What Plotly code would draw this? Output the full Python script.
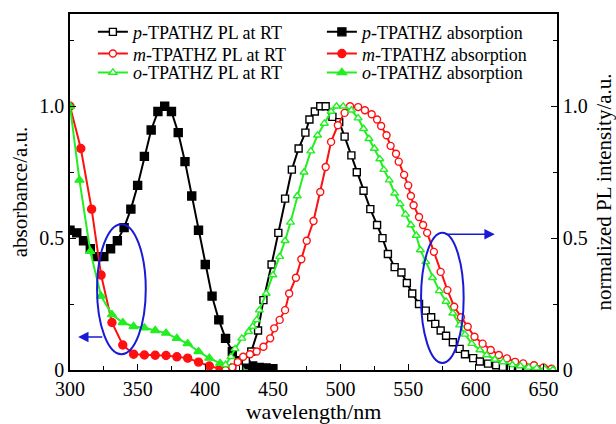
import plotly.graph_objects as go

# ---------------- data ----------------
# absorption (left axis)
p_abs_wl = [300, 305, 310, 315, 320, 325, 330, 335, 340, 345, 350, 355, 360, 365, 370,
            375, 380, 385, 390, 395, 400, 405, 410, 415, 420, 425, 430, 435, 440, 445, 450]
p_abs = [0.53, 0.52, 0.49, 0.46, 0.43, 0.43, 0.46, 0.49, 0.54, 0.61, 0.70, 0.81, 0.91, 0.98, 1.00,
         0.98, 0.90, 0.79, 0.66, 0.53, 0.40, 0.28, 0.19, 0.12, 0.07, 0.035, 0.02, 0.015, 0.01, 0.008, 0.005]

m_abs_wl = [300, 308, 316, 323, 331, 339, 347, 355, 363, 371, 379, 387, 395, 403, 411, 419]
m_abs = [1.0, 0.84, 0.61, 0.36, 0.18, 0.095, 0.06, 0.057, 0.056, 0.055, 0.05, 0.045, 0.03, 0.015, 0.005, 0.0]

o_abs_wl = [300, 307, 315, 323, 331, 339, 347, 355, 363, 371, 379, 387, 395, 403, 411, 419, 427]
o_abs = [1.0, 0.72, 0.45, 0.28, 0.21, 0.18, 0.165, 0.16, 0.15, 0.14, 0.12, 0.10, 0.07, 0.045, 0.025, 0.01, 0.0]

# PL (right axis)
p_pl_wl = [420, 425, 430, 434, 439, 443, 449, 454, 459, 464, 469, 474, 477, 481, 485, 489, 494, 499,
           503, 508, 512, 517, 522, 527, 531, 535, 540, 545, 549, 553, 558, 563, 567, 570, 574, 578,
           583, 588, 592, 598, 603, 609, 615, 620, 626, 632, 638, 644, 650]
p_pl = [0.0, 0.01, 0.035, 0.07, 0.15, 0.265, 0.40, 0.52, 0.65, 0.76, 0.84, 0.90, 0.95, 0.98, 1.0, 1.0, 0.96, 0.94,
        0.885, 0.814, 0.75, 0.68, 0.61, 0.55, 0.50, 0.44, 0.39, 0.37, 0.33, 0.29, 0.25, 0.225, 0.20, 0.175, 0.15, 0.13,
        0.105, 0.08, 0.06, 0.045, 0.032, 0.024, 0.018, 0.012, 0.007, 0.004, 0.002, 0.001, 0.0]

m_pl_wl = [415, 420, 424, 428, 433, 438, 443, 448, 451, 455, 459, 462, 467, 471, 475, 480, 485, 489, 493,
           498, 503, 507, 513, 518, 523, 527, 530, 534, 537, 541, 543, 547, 550, 552, 554, 558, 561, 564,
           569, 574, 579, 584, 589, 594, 599, 605, 611, 617, 623, 629, 635, 643, 650, 656]
m_pl = [0.0, 0.01, 0.03, 0.05, 0.06, 0.07, 0.088, 0.12, 0.158, 0.19, 0.227, 0.29, 0.35, 0.42, 0.49, 0.565, 0.675, 0.77, 0.865,
        0.928, 0.975, 1.0, 0.997, 0.985, 0.97, 0.95, 0.925, 0.89, 0.85, 0.82, 0.79, 0.74, 0.70, 0.66, 0.625, 0.58, 0.55, 0.52,
        0.448, 0.372, 0.303, 0.24, 0.20, 0.164, 0.126, 0.10, 0.076, 0.057, 0.044, 0.031, 0.025, 0.018, 0.01, 0.005]

o_pl_wl = [415, 419, 422, 427, 432, 435, 438, 440, 445, 450, 455, 459, 463, 468, 473, 478, 483, 488, 493,
           497, 502, 508, 513, 517, 521, 525, 529, 532, 536, 540, 544, 548, 552, 556, 559, 563, 568, 573,
           578, 583, 588, 592, 597, 603, 608, 614, 620, 627, 633, 639, 645, 651, 657]
o_pl = [0.02, 0.05, 0.08, 0.12, 0.145, 0.165, 0.19, 0.227, 0.29, 0.36, 0.43, 0.49, 0.56, 0.66, 0.75, 0.83, 0.89, 0.935, 0.98,
        1.0, 1.0, 0.985, 0.955, 0.915, 0.877, 0.84, 0.80, 0.76, 0.72, 0.67, 0.63, 0.59, 0.55, 0.51, 0.455, 0.41, 0.35, 0.30,
        0.26, 0.215, 0.17, 0.135, 0.10, 0.076, 0.057, 0.04, 0.03, 0.02, 0.015, 0.01, 0.007, 0.004, 0.002]

x_ticks = [300, 350, 400, 450, 500, 550, 600, 650]
y_ticks = [0, 0.5, 1.0]
y_ticktext = ["0", "0.5", "1.0"]

# guide ellipses / arrows (annotation geometry)
left_ellipse = dict(x0=320, x1=356, y0=0.06, y1=0.553)
right_ellipse = dict(x0=559.5, x1=591, y0=0.027, y1=0.52)
left_arrow = dict(tail=(325, 0.125), head=(306, 0.125))
right_arrow = dict(tail=(576.5, 0.515), head=(614, 0.515))

BLACK = "#000000"
RED = "#ff1010"
GREEN = "#22ee22"
BLUE = "#1a1ad6"
FONT = "Liberation Serif"

fig = go.Figure()


def add(wl, vals, name, color, symbol, filled, yaxis, legend):
    marker = dict(symbol=symbol, size=7 if not filled else 8,
                  color=color if filled else "white",
                  line=dict(color=color, width=1.4))
    fig.add_trace(go.Scatter(x=wl, y=vals, name=name, mode="lines+markers", legend=legend,
                             line=dict(color=color, width=2), marker=marker, yaxis=yaxis))


add(p_pl_wl, p_pl, "<i>p</i>-TPATHZ PL at RT", BLACK, "square", False, "y2", "legend")
add(p_abs_wl, p_abs, "<i>p</i>-TPATHZ absorption", BLACK, "square", True, "y", "legend")
add(m_pl_wl, m_pl, "<i>m</i>-TPATHZ PL at RT", RED, "circle", False, "y2", "legend2")
add(m_abs_wl, m_abs, "<i>m</i>-TPATHZ absorption", RED, "circle", True, "y", "legend2")
add(o_pl_wl, o_pl, "<i>o</i>-TPATHZ PL at RT", GREEN, "triangle-up", False, "y2", "legend3")
add(o_abs_wl, o_abs, "<i>o</i>-TPATHZ absorption", GREEN, "triangle-up", True, "y", "legend3")

for e in (left_ellipse, right_ellipse):
    fig.add_shape(type="circle", xref="x", yref="y", line=dict(color=BLUE, width=2), **e)

for a in (left_arrow, right_arrow):
    fig.add_annotation(x=a["head"][0], y=a["head"][1], ax=a["tail"][0], ay=a["tail"][1],
                       xref="x", yref="y", axref="x", ayref="y", text="", showarrow=True,
                       arrowhead=2, arrowsize=1.3, arrowwidth=1.6, arrowcolor=BLUE)

axis_common = dict(showline=True, linecolor="black", linewidth=1.5, showgrid=False, zeroline=False,
                   automargin=False,
                   ticks="inside", ticklen=6, tickwidth=1.3, tickcolor="black",
                   tickfont=dict(family=FONT, size=20, color="black"))


def legend_row(y):
    return dict(orientation="h", x=0.047, y=y, xanchor="left", yanchor="top",
                entrywidth=184, entrywidthmode="pixels", itemwidth=30,
                bgcolor="rgba(0,0,0,0)", font=dict(family=FONT, size=18, color="black"))


fig.update_layout(
    template="none",
    width=616, height=424,
    margin=dict(l=70, r=59, t=14, b=54, autoexpand=False),
    paper_bgcolor="white", plot_bgcolor="white",
    font=dict(family=FONT, color="black"),
    xaxis=dict(range=[300, 660], tickvals=x_ticks, mirror=True,
               minor=dict(dtick=25, tick0=300, ticks="inside", ticklen=4, tickcolor="black"),
               title=dict(text="wavelength/nm", font=dict(family=FONT, size=22), standoff=3),
               **axis_common),
    yaxis=dict(range=[0, 1.35], tickvals=y_ticks, ticktext=y_ticktext,
               minor=dict(tickvals=[0.25, 0.75, 1.25], ticks="inside", ticklen=4, tickcolor="black"),
               title=dict(text="absorbance/a.u.", font=dict(family=FONT, size=21), standoff=6),
               **axis_common),
    yaxis2=dict(range=[0, 1.35], tickvals=y_ticks, ticktext=y_ticktext, overlaying="y", side="right",
                minor=dict(tickvals=[0.25, 0.75, 1.25], ticks="inside", ticklen=4, tickcolor="black"),
                title=dict(text="normalized PL intensity/a.u.", font=dict(family=FONT, size=21), standoff=10),
                **axis_common),
    legend=legend_row(1.001),
    legend2=legend_row(0.940),
    legend3=legend_row(0.887),
    showlegend=True,
)

fig.write_html("out.html")
